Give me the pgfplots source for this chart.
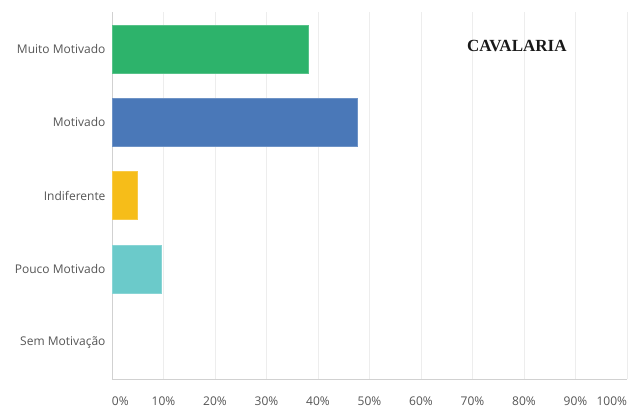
\documentclass[border=0pt]{standalone}
\usepackage{pgfplots}
\pgfplotsset{compat=1.18}
\usepackage{fontspec}
\setmainfont{Open Sans}
\newfontfamily\titlefont{Liberation Serif}
\definecolor{cgreen}{HTML}{2DB36B}
\definecolor{cblue}{HTML}{4A78B8}
\definecolor{cyellow}{HTML}{F6BD19}
\definecolor{cteal}{HTML}{6BCACA}
\definecolor{clabel}{HTML}{555555}
\begin{document}
\begin{tikzpicture}
\useasboundingbox (-112pt,-28pt) rectangle (519pt,379pt);
\begin{axis}[
  at={(0,0)}, anchor=south west,
  scale only axis, width=515pt, height=367pt,
  xmin=0, xmax=100, ymin=-0.5, ymax=4.5,
  xbar, bar width=48pt, bar shift=0pt,
  axis x line*=bottom, axis y line*=left,
  axis line style={draw=black!18, line width=0.8pt},
  xtick={0,10,...,100},
  xticklabels={\makebox[0pt][l]{0\%},10\%,20\%,30\%,40\%,50\%,60\%,70\%,80\%,90\%,\makebox[0pt][r]{100\%}},
  ytick={0,1,2,3,4},
  yticklabels={Sem Motivação,Pouco Motivado,Indiferente,Motivado,Muito Motivado},
  major tick length=0pt,
  xmajorgrids, major grid style={draw=black!7, line width=0.8pt},
  ticklabel style={font=\fontsize{12}{14}\selectfont, text=clabel},
  xticklabel style={yshift=-14pt},
  yticklabel style={xshift=-3pt},
  clip=false,
]
\addplot[fill=cgreen, draw=cgreen!80!white] coordinates {(38.1,4)};
\addplot[fill=cblue, draw=cblue!80!white] coordinates {(47.6,3)};
\addplot[fill=cyellow, draw=cyellow!80!white] coordinates {(4.8,2)};
\addplot[fill=cteal, draw=cteal!80!white] coordinates {(9.5,1)};
\node[font=\titlefont\bfseries\fontsize{17}{19}\selectfont, text=black!90] at (axis cs:78.6,4.04) {CAVALARIA};
\end{axis}
\end{tikzpicture}
\end{document}
